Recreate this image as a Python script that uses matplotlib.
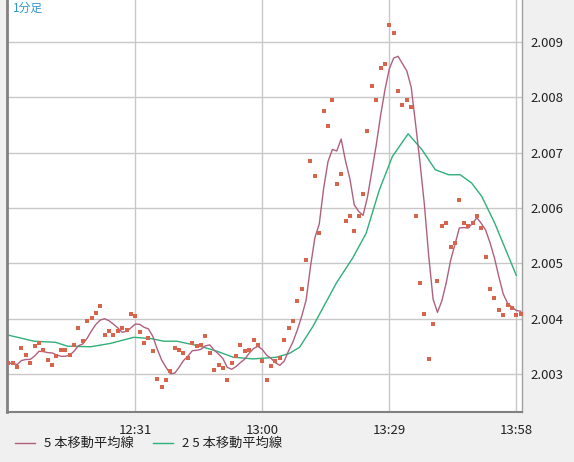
import numpy as np
import pandas as pd
import matplotlib
matplotlib.use("Agg")
import matplotlib.pyplot as plt

plt.rcParams['font.family'] = ['Noto Sans CJK JP', 'DejaVu Sans']

# 1-minute prices, 12:02 .. 13:59
prices = [
    2.00319, 2.00319, 2.00312, 2.00346, 2.00334, 2.00319, 2.00350, 2.00355, 2.00343, 2.00325,
    2.00316, 2.00332, 2.00343, 2.00343, 2.00334, 2.00352, 2.00382, 2.00359, 2.00395, 2.00401,
    2.00410, 2.00422, 2.00370, 2.00377, 2.00370, 2.00377, 2.00382, 2.00379, 2.00408, 2.00404,
    2.00375, 2.00355, 2.00364, 2.00341, 2.00290, 2.00276, 2.00289, 2.00305, 2.00346, 2.00343,
    2.00337, 2.00328, 2.00355, 2.00350, 2.00352, 2.00368, 2.00337, 2.00307, 2.00316, 2.00310,
    2.00289, 2.00319, 2.00332, 2.00352, 2.00341, 2.00343, 2.00361, 2.00352, 2.00323, 2.00289,
    2.00314, 2.00323, 2.00328, 2.00361, 2.00382,
    2.00395, 2.00431, 2.00453, 2.00505, 2.00685, 2.00657, 2.00554, 2.00775, 2.00748, 2.00795,
    2.00643, 2.00662, 2.00577, 2.00586, 2.00559, 2.00585, 2.00626, 2.00739, 2.00820, 2.00795,
    2.00853, 2.00860, 2.00930, 2.00917, 2.00811, 2.00786, 2.00795, 2.00782, 2.00585, 2.00464,
    2.00408, 2.00327, 2.00390, 2.00467, 2.00568, 2.00572, 2.00529, 2.00536, 2.00614, 2.00572,
    2.00567, 2.00572, 2.00586, 2.00563, 2.00511, 2.00453, 2.00437, 2.00416, 2.00407, 2.00424,
    2.00419, 2.00407, 2.00409,
]

# 25-bar moving average at sample minutes
ma25_idx = [0, 5.9, 10.8, 13.5, 18.8, 23.3, 28.6, 32.4, 35.5, 38.5, 43.8, 47.6, 51.4, 55.9,
            61.2, 64.2, 66.5, 69.5, 74.9, 78.6, 81.7, 84.7, 87.7, 91.3, 94.5, 97.5, 100.6,
            103.2, 105.8, 108.1, 111.1, 116.0]
ma25_val = [2.00370, 2.00359, 2.00357, 2.00350, 2.00349, 2.00355, 2.00366, 2.00364, 2.00359,
            2.00359, 2.00350, 2.00341, 2.00330, 2.00327, 2.00330, 2.00337, 2.00348, 2.00385,
            2.00464, 2.00509, 2.00554, 2.00632, 2.00693, 2.00734, 2.00705, 2.00669, 2.00660,
            2.00660, 2.00645, 2.00621, 2.00572, 2.00478]

tick_idx = [29, 58, 87, 116]
tick_labels = ["12:31", "13:00", "13:29", "13:58"]
ytick_vals = [2.003, 2.004, 2.005, 2.006, 2.007, 2.008, 2.009]

x = np.arange(len(prices))
ma5 = pd.Series(prices).rolling(5, min_periods=1).mean()

W, H = 574, 462
fig = plt.figure(figsize=(W / 100, H / 100), dpi=100)
fig.patch.set_facecolor("#f0f0f0")
ax = fig.add_axes([7 / W, 1 - 412 / H, (522 - 7) / W, 412 / H])
ax.set_facecolor("white")

ax.plot(x, ma5, color="#b0607f", lw=1.0, zorder=3)
ax.plot(ma25_idx, ma25_val, color="#2eb07a", lw=1.0, zorder=2)
ax.scatter(x, prices, marker="s", s=6, color="#d9644c", linewidths=0, zorder=4)

ax.set_xlim(-0.3, 117.3)
ax.set_ylim(2.00231, 2.00976)
ax.set_xticks(tick_idx)
ax.set_xticklabels(tick_labels)
ax.set_yticks(ytick_vals)
ax.set_yticklabels([f"{v:.3f}" for v in ytick_vals])
ax.yaxis.tick_right()
ax.tick_params(length=0, labelsize=9.5, colors="#222222")
ax.tick_params(axis="x", pad=9)
ax.tick_params(axis="y", pad=6)
ax.grid(True, color="#c8c8c8", lw=1)
ax.set_axisbelow(True)
ax.spines["top"].set_visible(False)
ax.spines["right"].set_color("#a0a0a0")
ax.spines["right"].set_linewidth(1)
ax.spines["left"].set_color("#808080")
ax.spines["left"].set_linewidth(2)
ax.spines["bottom"].set_color("#808080")
ax.spines["bottom"].set_linewidth(1.5)

ax.text(0.012, 0.995, "1分足", transform=ax.transAxes, color="#3399cc",
        fontsize=8.5, va="top", ha="left")

# legend at bottom
ly = 1 - 443 / H
fig.lines.append(plt.Line2D([15 / W, 35 / W], [ly] * 2, color="#b0607f", lw=1,
                            transform=fig.transFigure))
fig.text(44 / W, ly, "5 本移動平均線", fontsize=9.5, va="center", color="#222222")
fig.lines.append(plt.Line2D([153 / W, 173 / W], [ly] * 2, color="#2eb07a", lw=1,
                            transform=fig.transFigure))
fig.text(182 / W, ly, "2 5 本移動平均線", fontsize=9.5, va="center", color="#222222")

fig.savefig("out.png", dpi=100, facecolor=fig.get_facecolor())
